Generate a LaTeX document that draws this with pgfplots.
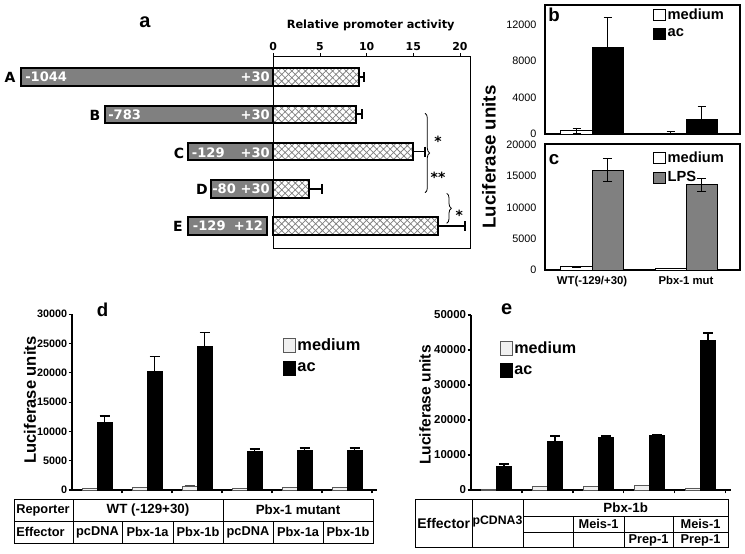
\documentclass[border=0pt]{standalone}
\usepackage{fontspec}
\setmainfont{Liberation Sans}
\newfontfamily\dvs{DejaVu Sans}
\usepackage{pgfplots}
\pgfplotsset{compat=1.18}
\usetikzlibrary{patterns,patterns.meta,decorations.pathreplacing}
\newcommand\fs[1]{\fontsize{#1}{#1}\selectfont}
\pgfplotsset{
  sqa/.style={legend image code/.code={\draw[##1,line width=0.6pt] (0pt,-4.1pt) rectangle (9pt,4.1pt);}},
  sqd/.style={legend image code/.code={\draw[##1,line width=0.6pt] (0pt,-5.25pt) rectangle (8.8pt,5.25pt);}},
}
\begin{document}
\begin{tikzpicture}
\path[use as bounding box] (0,0) rectangle (558.75pt,-414.75pt);
\begin{scope}[x=0.75pt,y=-0.75pt]
\coordinate (aNW) at (273.3,56.7);
\coordinate (bSW) at (545,134);
\coordinate (cSW) at (545,270);
\coordinate (dSW) at (72,490);
\coordinate (eSW) at (471,490);
\end{scope}

% ---------------- panel a
\begin{axis}[at={(aNW)}, anchor=north west, scale only axis,
  width=147.5pt, height=143.5pt,
  xmin=0, xmax=21.07, ymin=0.409, ymax=5.545, clip=false,
  xtick={0,5,10,15,20}, xtick pos=right, xticklabel pos=right, ytick=\empty,
  tick align=outside, major tick length=2.5pt,
  axis line style={black, line width=0.6pt}, tick style={black, line width=0.6pt},
  xticklabel style={font=\dvs\bfseries\fs{8.2}, inner sep=1.5pt},
  /pgf/number format/assume math mode=true]
\addplot[xbar, bar width=0.47, draw=black, line width=1.5pt, preaction={fill=white},
  pattern={Hatch[angle=45, distance=3.6pt, line width=0.55pt]}, pattern color=gray,
  error bars/.cd, x dir=plus, x explicit,
  error bar style={line width=1.4pt, black, solid},
  error mark options={rotate=90, line width=1.4pt, mark size=3.75pt, black, solid}]
coordinates {(9.18,5) +- (0.54,0) (8.83,4) +- (0.67,0) (15.0,3) +- (1.25,0) (3.82,2) +- (1.36,0) (17.68,1) +- (2.86,0)};
\draw[fill=gray, line width=1.5pt] (axis cs:-27.06,4.765) rectangle (axis cs:0,5.235);
\draw[fill=gray, line width=1.5pt] (axis cs:-18.03,3.765) rectangle (axis cs:0,4.235);
\draw[fill=gray, line width=1.5pt] (axis cs:-9.10,2.765) rectangle (axis cs:0,3.235);
\draw[fill=gray, line width=1.5pt] (axis cs:-6.71,1.765) rectangle (axis cs:0,2.235);
\draw[fill=gray, line width=1.5pt] (axis cs:-9.10,0.765) rectangle (axis cs:-0.71,1.235);
\end{axis}

% ---------------- panel b
\begin{axis}[at={(bSW)}, anchor=south west, scale only axis,
  width=146.25pt, height=96.75pt,
  xmin=0.5, xmax=2.574, ymin=0, ymax=14137, clip=false,
  ytick={0,4000,8000,12000}, xtick=\empty, major tick length=0pt,
  axis line style={black, line width=0.8pt},
  yticklabel style={font=\fs{8.1}, xshift=-3pt},
  scaled y ticks=false,
  /pgf/number format/.cd, 1000 sep={}, assume math mode=true, /pgfplots/.cd,
  legend style={at={(0.554,0.985)}, anchor=north west, draw=none, fill=none,
    font=\bfseries\fs{11}, inner sep=0pt, row sep=3pt, nodes={inner sep=1.2pt}},
  legend cell align=left]
\addplot[ybar, bar width=0.33, bar shift=0pt, fill=white, draw=black, line width=0.75pt, sqa,
  error bars/.cd, y dir=both, y explicit, error bar style={line width=0.6pt, black},
  error mark options={rotate=90, line width=0.6pt, mark size=3pt, black}]
coordinates {(0.835,360) +- (0,300) (1.835,100) +- (0,180)};
\addlegendentry{medium}
\addplot[ybar, bar width=0.33, bar shift=0pt, fill=black, draw=black, line width=0.75pt, sqa,
  error bars/.cd, y dir=both, y explicit, error bar style={line width=0.6pt, black},
  error mark options={rotate=90, line width=0.6pt, mark size=3pt, black}]
coordinates {(1.165,9510) +- (0,3220) (2.165,1630) +- (0,1370)};
\addlegendentry{ac}
\end{axis}

% ---------------- panel c
\begin{axis}[at={(cSW)}, anchor=south west, scale only axis,
  width=146.25pt, height=94.5pt,
  xmin=0.5, xmax=2.574, ymin=0, ymax=20160, clip=false,
  ytick={0,5000,10000,15000,20000}, xtick={1,2},
  xticklabels={WT(-129/+30), Pbx-1 mut}, major tick length=0pt,
  axis line style={black, line width=0.8pt},
  yticklabel style={font=\fs{8.1}, xshift=-3pt},
  xticklabel style={font=\bfseries\fs{8.5}, yshift=-1pt},
  scaled y ticks=false,
  /pgf/number format/.cd, 1000 sep={}, assume math mode=true, /pgfplots/.cd,
  legend style={at={(0.554,0.955)}, anchor=north west, draw=none, fill=none,
    font=\bfseries\fs{11}, inner sep=0pt, row sep=3pt, nodes={inner sep=1.2pt}},
  legend cell align=left]
\addplot[ybar, bar width=0.33, bar shift=0pt, fill=white, draw=black, line width=0.75pt, sqa,
  error bars/.cd, y dir=both, y explicit, error bar style={line width=0.6pt, black},
  error mark options={rotate=90, line width=0.6pt, mark size=3.5pt, black}]
coordinates {(0.835,500) +- (0,100) (1.835,250) +- (0,60)};
\addlegendentry{medium}
\addplot[ybar, bar width=0.33, bar shift=0pt, fill=gray, draw=black, line width=0.75pt, sqa,
  error bars/.cd, y dir=both, y explicit, error bar style={line width=0.6pt, black},
  error mark options={rotate=90, line width=0.6pt, mark size=3.5pt, black}]
coordinates {(1.165,16000) +- (0,1800) (2.165,13650) +- (0,1000)};
\addlegendentry{LPS}
\end{axis}

% ---------------- panel d
\begin{axis}[at={(dSW)}, anchor=south west, scale only axis,
  width=228.75pt, height=131.85pt,
  xmin=0, xmax=6.1, ymin=0, ymax=30000, clip=false,
  axis x line*=bottom, axis y line*=left,
  xtick={1,2,3,4,5,6}, xticklabels={}, ytick={0,5000,10000,15000,20000,25000,30000},
  tick align=outside, major tick length=2.5pt,
  axis line style={black, line width=0.8pt}, tick style={black, line width=0.8pt},
  yticklabel style={font=\bfseries\fs{8.1}, inner sep=1pt},
  scaled y ticks=false,
  /pgf/number format/.cd, 1000 sep={}, assume math mode=true, /pgfplots/.cd,
  legend style={at={(0.692,0.87)}, anchor=north west, draw=none, fill=none,
    font=\bfseries\fs{12.3}, inner sep=0pt, row sep=5pt, nodes={inner sep=1.2pt}},
  legend cell align=left]
\addplot[ybar, bar width=0.3, bar shift=0pt, fill=gray!12, draw=black!65, line width=0.6pt, sqd,
  error bars/.cd, y dir=plus, y explicit, error bar style={line width=0.8pt, black!70},
  error mark options={rotate=90, line width=0.8pt, mark size=3.75pt, black!70}]
coordinates {(0.35,200) (1.35,450) (2.35,630) +- (0,170) (3.35,200) (4.35,450) (5.35,450)};
\addlegendentry{medium}
\addplot[ybar, bar width=0.3, bar shift=0pt, fill=black, draw=black, line width=0.6pt, sqd,
  error bars/.cd, y dir=plus, y explicit, error bar style={line width=1.2pt, black},
  error mark options={rotate=90, line width=1.2pt, mark size=3.75pt, black}]
coordinates {(0.65,11600) +- (0,1080) (1.65,20200) +- (0,2600) (2.65,24500) +- (0,2350)
  (3.65,6540) +- (0,460) (4.65,6700) +- (0,450) (5.65,6700) +- (0,450)};
\addlegendentry{ac}
\end{axis}

% ---------------- panel e
\begin{axis}[at={(eSW)}, anchor=south west, scale only axis,
  width=195pt, height=131.25pt,
  xmin=0, xmax=5.1, ymin=0, ymax=50000, clip=false,
  axis x line*=bottom, axis y line*=left,
  xtick={1,2,3,4,5}, xticklabels={}, ytick={0,10000,20000,30000,40000,50000},
  tick align=outside, major tick length=2.5pt,
  axis line style={black, line width=0.8pt}, tick style={black, line width=0.8pt},
  yticklabel style={font=\bfseries\fs{8.6}, inner sep=1pt},
  scaled y ticks=false,
  /pgf/number format/.cd, 1000 sep={}, assume math mode=true, /pgfplots/.cd,
  legend style={at={(0.1115,0.86)}, anchor=north west, draw=none, fill=none,
    font=\bfseries\fs{12.1}, inner sep=0pt, row sep=5pt, nodes={inner sep=1.2pt}},
  legend cell align=left]
\addplot[ybar, bar width=0.3, bar shift=0pt, fill=gray!12, draw=black!65, line width=0.6pt, sqd]
coordinates {(0.35,300) (1.35,950) (2.35,1100) (3.35,1250) (4.35,600)};
\addlegendentry{medium}
\addplot[ybar, bar width=0.3, bar shift=0pt, fill=black, draw=black, line width=0.6pt, sqd,
  error bars/.cd, y dir=plus, y explicit, error bar style={line width=1.2pt, black},
  error mark options={rotate=90, line width=1.2pt, mark size=3.75pt, black}]
coordinates {(0.65,6800) +- (0,600) (1.65,13800) +- (0,1600) (2.65,14900) +- (0,500)
  (3.65,15600) +- (0,200) (4.65,42700) +- (0,2200)};
\addlegendentry{ac}
\end{axis}

% ---------------- annotations
\begin{scope}[x=0.75pt,y=-0.75pt]
\node[font=\bfseries\fs{15}] at (145,22) {a};
\node[font=\dvs\bfseries\fs{8.5}] at (370.7,25) {Relative promoter activity};
\foreach \l/\x/\y in {A/10/77, B/95/115, C/179/153, D/202/189, E/178/226}
  \node[font=\dvs\bfseries\fs{10.5}] at (\x,\y) {\l};
\begin{scope}[every node/.style={font=\dvs\bfseries\fs{9.8}, text=white, inner sep=0pt}]
\node[anchor=west] at (25,77) {-1044};   \node[anchor=east] at (270,77) {+30};
\node[anchor=west] at (108,115) {-783};  \node[anchor=east] at (270,115) {+30};
\node[anchor=west] at (191.7,153) {-129}; \node[anchor=east] at (270,153) {+30};
\node[anchor=west] at (212,189) {-80};   \node[anchor=east] at (270,189) {+30};
\node[anchor=west] at (192.7,226) {-129}; \node[anchor=east] at (263.3,226) {+12};
\end{scope}
\draw[decorate, decoration={brace, amplitude=3.5pt}, line width=0.6pt] (425,113.3) -- (425,192.7);
\draw[decorate, decoration={brace, amplitude=3.5pt}, line width=0.6pt] (446.7,193.3) -- (446.7,223.3);
\node[font=\dvs\bfseries\fs{10.5}] at (438,141) {*};
\node[font=\dvs\bfseries\fs{10.5}] at (438,177) {**};
\node[font=\dvs\bfseries\fs{10.5}] at (459.3,215.7) {*};

\node[font=\bfseries\fs{14}] at (554,15) {b};
\node[font=\bfseries\fs{14}] at (554,160) {c};
\node[font=\bfseries\fs{14}] at (102.5,310) {d};
\node[font=\bfseries\fs{15}] at (506.7,309) {e};
\node[rotate=90, font=\bfseries\fs{14}] at (489,157) {Luciferase units};
\node[rotate=90, font=\bfseries\fs{12.4}] at (30,400) {Luciferase units};
\node[rotate=90, font=\bfseries\fs{11.7}] at (425,405) {Luciferase units};

% table d
\begin{scope}[line width=0.75pt]
\draw (14,499) rectangle (373,543);
\draw (14,521) -- (373,521);
\draw (73,499) -- (73,543);
\draw (223,499) -- (223,543);
\foreach \x in {122,173,273,323} \draw (\x,521) -- (\x,543);
\end{scope}
\begin{scope}[every node/.style={font=\bfseries\fs{9.6}, inner sep=0pt}]
\node[anchor=west] at (16,510) {Reporter};
\node[anchor=west] at (16,532) {Effector};
\node[font=\bfseries\fs{10}] at (148,510) {WT (-129+30)};
\node[font=\bfseries\fs{10}] at (298,510) {Pbx-1 mutant};
\foreach \t/\x in {pcDNA/97.5, Pbx-1a/147.5, Pbx-1b/198, pcDNA/248, Pbx-1a/298, Pbx-1b/348}
  \node at (\x,532) {\t};
\end{scope}

% table e
\begin{scope}[line width=0.75pt]
\draw (415,499) rectangle (728,547);
\draw (472,499) -- (472,547);
\draw (523,499) -- (523,547);
\draw (523,516) -- (728,516);
\draw (523,532) -- (728,532);
\foreach \x in {573,624,673} \draw (\x,516) -- (\x,547);
\end{scope}
\begin{scope}[every node/.style={font=\bfseries\fs{9.6}, inner sep=0pt}]
\node[anchor=west, font=\bfseries\fs{10.5}] at (417,523) {Effector};
\node[font=\bfseries\fs{9.2}] at (497.5,521) {pCDNA3};
\node[font=\bfseries\fs{10}] at (625.7,507.5) {Pbx-1b};
\node at (598.5,524) {Meis-1};
\node at (700.5,524) {Meis-1};
\node at (648.5,540) {Prep-1};
\node at (700.5,540) {Prep-1};
\end{scope}
\end{scope}
\end{tikzpicture}
\end{document}
